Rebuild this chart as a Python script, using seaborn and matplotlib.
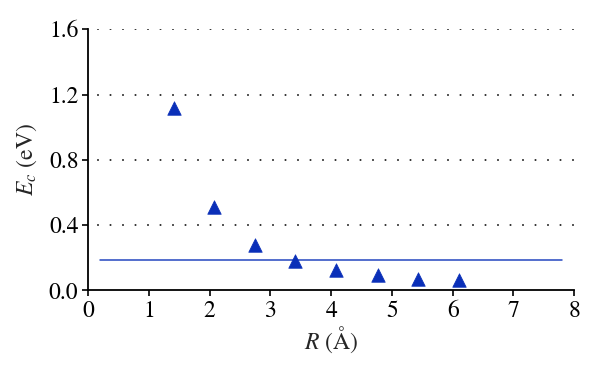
import seaborn as sns
import matplotlib
matplotlib.use("Agg")
from matplotlib import pyplot as plt
import pandas as pd

# data
R = [1.41, 2.07, 2.74, 3.41, 4.08, 4.77, 5.43, 6.11]
Ec = [1.12, 0.51, 0.28, 0.18, 0.125, 0.095, 0.07, 0.065]
line_x = [0.2, 7.8]
line_y = [0.185, 0.185]
xticks = [0, 1, 2, 3, 4, 5, 6, 7, 8]
yticks = [0.0, 0.4, 0.8, 1.2, 1.6]

sns.set_style("white")
plt.rcParams['font.family'] = ['STIXGeneral', 'Liberation Serif', 'DejaVu Serif']
plt.rcParams['mathtext.fontset'] = 'stix'

df = pd.DataFrame({'R': R, 'Ec': Ec})
dl = pd.DataFrame({'x': line_x, 'y': line_y})

fig = plt.figure(figsize=(6, 3.7), dpi=100)
ax = fig.add_axes([0.147, 0.215, 0.810, 0.706])

# horizontal dotted grid
for yv in yticks[1:]:
    ax.axhline(yv, color='#111111', linestyle=(2, (1, 6.5)), linewidth=1.2, zorder=0)

sns.lineplot(data=dl, x='x', y='y', color='#2447c0', linewidth=1.1, ax=ax)
sns.scatterplot(data=df, x='R', y='Ec', marker='^', s=95, color='#0a2fb8',
                edgecolor='#0a2fb8', linewidth=0.5, ax=ax, zorder=3)

ax.set_xlim(0, 8)
ax.set_ylim(0, 1.6)
ax.set_xticks(xticks)
ax.set_yticks(yticks)
ax.set_yticklabels(['%.1f' % v for v in yticks])
ax.set_xlabel('$R$ (Å)', fontsize=17, labelpad=2)
ax.set_ylabel('$E_c$ (eV)', fontsize=17, labelpad=7)
ax.tick_params(axis='both', direction='out', length=4, width=1.2, labelsize=17,
               bottom=True, left=True, colors='black', pad=3)

sns.despine(ax=ax)
for s in ['left', 'bottom']:
    ax.spines[s].set_color('black')
    ax.spines[s].set_linewidth(1.3)

fig.savefig('out.png', dpi=100)
